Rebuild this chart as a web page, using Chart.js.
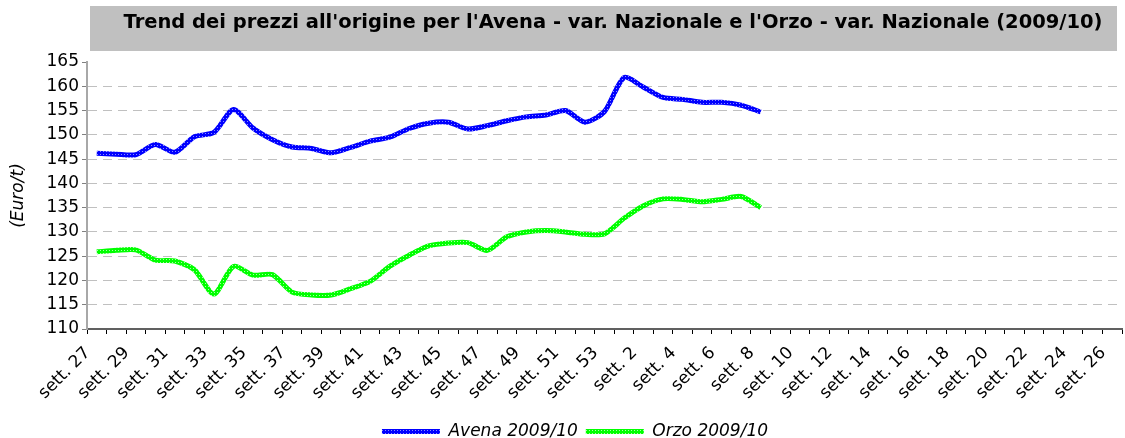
<!DOCTYPE html>
<html>
<head>
<meta charset="utf-8">
<script src="https://cdn.jsdelivr.net/npm/chart.js@4.4.0/dist/chart.umd.min.js"></script>
<style>
  html, body { margin: 0; padding: 0; background: #fff; }
</style>
</head>
<body>
<canvas id="chart" width="1125" height="438"></canvas>
<script>
// --- data ---
const TITLE = "Trend dei prezzi all'origine per l'Avena - var. Nazionale e l'Orzo - var. Nazionale (2009/10)";

const weeks = [
  'sett. 27', 'sett. 28', 'sett. 29', 'sett. 30', 'sett. 31', 'sett. 32', 'sett. 33', 'sett. 34',
  'sett. 35', 'sett. 36', 'sett. 37', 'sett. 38', 'sett. 39', 'sett. 40', 'sett. 41', 'sett. 42',
  'sett. 43', 'sett. 44', 'sett. 45', 'sett. 46', 'sett. 47', 'sett. 48', 'sett. 49', 'sett. 50',
  'sett. 51', 'sett. 52', 'sett. 53', 'sett. 1', 'sett. 2', 'sett. 3', 'sett. 4', 'sett. 5',
  'sett. 6', 'sett. 7', 'sett. 8', 'sett. 9', 'sett. 10', 'sett. 11', 'sett. 12', 'sett. 13',
  'sett. 14', 'sett. 15', 'sett. 16', 'sett. 17', 'sett. 18', 'sett. 19', 'sett. 20', 'sett. 21',
  'sett. 22', 'sett. 23', 'sett. 24', 'sett. 25', 'sett. 26'
];

// Euro/t, weeks 27 (2009) .. 8 (2010)
const avena = [
  146.2, 146.0, 145.9, 148.0, 146.4, 149.6, 150.5, 155.2, 151.4, 149.0,
  147.5, 147.2, 146.3, 147.4, 148.7, 149.5, 151.3, 152.4, 152.6, 151.2,
  151.9, 152.9, 153.7, 154.1, 155.0, 152.6, 154.8, 161.8, 159.8, 157.7,
  157.3, 156.7, 156.7, 156.1, 154.7
];
const orzo = [
  125.9, 126.2, 126.3, 124.2, 124.0, 122.2, 117.2, 122.9, 121.1, 121.2,
  117.6, 117.0, 117.0, 118.3, 119.8, 122.9, 125.2, 127.1, 127.7, 127.8,
  126.2, 129.0, 130.0, 130.3, 130.0, 129.5, 129.6, 132.8, 135.4, 136.8,
  136.7, 136.2, 136.7, 137.3, 135.0
];

const yMin = 110, yMax = 165, yStep = 5;

// --- Excel-like patterned thick line ---
function linePattern(base, light) {
  const c = document.createElement('canvas');
  c.width = 3; c.height = 3;
  const g = c.getContext('2d');
  g.fillStyle = base;
  g.fillRect(0, 0, 3, 3);
  g.fillStyle = light;
  g.fillRect(1, 1, 1, 1);
  return g.createPattern(c, 'repeat');
}
const bluePat = linePattern('#0000ff', '#8c8cff');
const greenPat = linePattern('#00ff00', '#a8ffa8');

// grey title band
const titleBox = {
  id: 'titleBox',
  beforeDraw(chart) {
    const ctx = chart.ctx;
    ctx.save();
    ctx.fillStyle = '#c0c0c0';
    ctx.fillRect(90, 6, 1027, 45);
    ctx.fillStyle = '#000';
    ctx.font = 'bold 19.5px "DejaVu Sans"';
    ctx.textAlign = 'center';
    ctx.textBaseline = 'middle';
    ctx.fillText(TITLE, 613, 23);
    ctx.restore();
  }
};

// nudge the legend to where the original had it
const legendShift = {
  id: 'legendShift',
  afterLayout(chart) {
    const lg = chart.legend;
    lg.left += 14; lg.right += 14;
    lg.top += 12; lg.bottom += 12;
  }
};

Chart.defaults.font.family = '"DejaVu Sans", Verdana, sans-serif';
Chart.defaults.color = '#000';

new Chart(document.getElementById('chart'), {
  type: 'line',
  data: {
    labels: weeks,
    datasets: [{
      label: 'Avena 2009/10',
      data: avena,
      borderColor: bluePat,
      backgroundColor: bluePat,
      borderWidth: 5,
      pointRadius: 0,
      tension: 0.25,
      fill: false
    }, {
      label: 'Orzo 2009/10',
      data: orzo,
      borderColor: greenPat,
      backgroundColor: greenPat,
      borderWidth: 5,
      pointRadius: 0,
      tension: 0.25,
      fill: false
    }]
  },
  options: {
    responsive: false,
    animation: false,
    devicePixelRatio: 1,
    layout: { padding: { top: 62, right: 3, left: 0, bottom: 0 } },
    plugins: {
      legend: {
        position: 'bottom',
        labels: {
          boxWidth: 58,
          boxHeight: 5,
          padding: 8,
          color: '#000',
          font: { size: 17, style: 'italic' },
          generateLabels(chart) {
            const items = Chart.defaults.plugins.legend.labels.generateLabels(chart);
            items.forEach(it => { it.lineWidth = 0; });
            return items;
          }
        }
      },
      tooltip: { enabled: false }
    },
    scales: {
      x: {
        type: 'category',
        offset: true,
        ticks: {
          autoSkip: false,
          maxRotation: 45,
          minRotation: 45,
          padding: 9,
          labelOffset: -9,
          font: { size: 17 },
          callback(v, i) { return i % 2 === 0 ? this.getLabelForValue(v) : ''; }
        },
        grid: { offset: true, drawOnChartArea: false, tickLength: 5, tickColor: '#000' },
        border: { color: '#606060', width: 2 },
        afterFit(scale) {
          scale.height = 74;
          scale.paddingLeft = 0;
          scale.paddingRight = 0;
        }
      },
      y: {
        min: yMin,
        max: yMax,
        ticks: { stepSize: yStep, padding: 3, font: { size: 17 } },
        grid: {
          color: c => (c.tick && c.tick.value === yMax) ? 'rgba(0,0,0,0)' : '#c0c0c0',
          lineWidth: 1,
          tickLength: 5,
          tickColor: '#808080'
        },
        border: { display: true, color: '#a8a8a8', width: 2, dash: [9, 6] },
        title: {
          display: true,
          text: '(Euro/t)',
          font: { size: 17, style: 'italic' },
          padding: { top: 8, bottom: 0 }
        },
        afterFit(scale) { scale.width = 87; }
      }
    }
  },
  plugins: [titleBox, legendShift]
});
</script>
</body>
</html>
